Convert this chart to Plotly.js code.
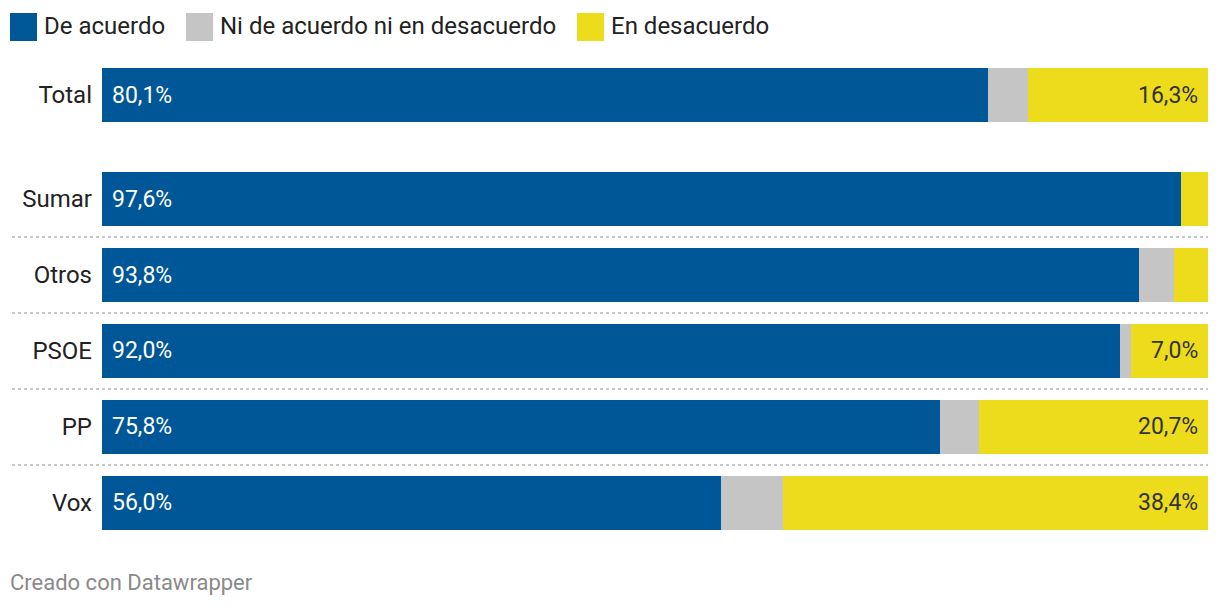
<!DOCTYPE html>
<html><head><meta charset="utf-8">
<script src="https://cdn.plot.ly/plotly-3.0.1.min.js"></script>
<style>body{margin:0;background:#fff}#chart{width:1220px;height:608px}</style>
</head><body><div id="chart"></div>
<script>
const categories = ["Total","Sumar","Otros","PSOE","PP","Vox"];
const deAcuerdo = [80.1, 97.6, 93.8, 92.0, 75.8, 56.0];
const niNi = [3.6, 0.0, 3.1, 1.0, 3.5, 5.6];
const enDesacuerdo = [16.3, 2.4, 3.1, 7.0, 20.7, 38.4];
const showYellowLabel = [true, false, false, true, true, true];
const seriesNames = ["De acuerdo","Ni de acuerdo ni en desacuerdo","En desacuerdo"];
const colors = ["#005797","#c5c5c5","#ecdc1b"];

// layout positions (row slots)
const yPos = [-1.368, 0, 1, 2, 3, 4];
const fmt = v => v.toFixed(1).replace('.', ',') + '%';
const FONT = 'Roboto, "Open Sans", sans-serif';
const W = 0.71;

const traces = [
  {type:'bar', orientation:'h', name:seriesNames[0], y:yPos, x:deAcuerdo, width:W,
   marker:{color:colors[0]}, hoverinfo:'skip', textposition:'none'},
  {type:'bar', orientation:'h', name:seriesNames[1], y:yPos, x:niNi, width:W,
   marker:{color:colors[1]}, hoverinfo:'skip', textposition:'none'},
  {type:'bar', orientation:'h', name:seriesNames[2], y:yPos, x:enDesacuerdo, width:W,
   marker:{color:colors[2]}, hoverinfo:'skip', textposition:'none'}
];

const px2x = p => (p-102)/1106;
const py2y = p => (540-p)/480;

const shapes = [];
[0.5,1.5,2.5,3.5].forEach(v=>{
  shapes.push({type:'line', xref:'paper', yref:'y', x0:px2x(12), x1:1, y0:v, y1:v,
    line:{color:'#c8c8c8', width:2, dash:'dot'}});
});
const annotations = [];
// value labels
yPos.forEach((y,i)=>{
  annotations.push({xref:'x', yref:'y', x:0, y:y, text:fmt(deAcuerdo[i]), showarrow:false,
    xanchor:'left', yanchor:'middle', xshift:8, font:{family:FONT,size:23,color:'#ffffff'}});
  if (showYellowLabel[i]) {
    const end = deAcuerdo[i]+niNi[i]+enDesacuerdo[i];
    annotations.push({xref:'x', yref:'y', x:end, y:y, text:fmt(enDesacuerdo[i]), showarrow:false,
      xanchor:'right', yanchor:'middle', xshift:-8, font:{family:FONT,size:23,color:'#333333'}});
  }
});
const legendX = [10, 186, 577];
seriesNames.forEach((n,i)=>{
  shapes.push({type:'rect', xref:'paper', yref:'paper', x0:px2x(legendX[i]), x1:px2x(legendX[i]+27),
    y0:py2y(41), y1:py2y(13), fillcolor:colors[i], line:{width:0}});
  annotations.push({xref:'paper', yref:'paper', x:px2x(legendX[i]+32), y:py2y(26), text:n,
    showarrow:false, xanchor:'left', yanchor:'middle', font:{family:FONT,size:24,color:'#222'}});
});
annotations.push({xref:'paper', yref:'paper', x:px2x(8), y:py2y(582), text:'Creado con Datawrapper',
  showarrow:false, xanchor:'left', yanchor:'middle', font:{family:FONT,size:22,color:'#8a8a8a'}});

const layout = {
  width:1220, height:608, barmode:'stack', bargap:0, showlegend:false,
  margin:{l:102, r:12, t:60, b:68},
  paper_bgcolor:'#fff', plot_bgcolor:'#fff',
  font:{family:FONT},
  xaxis:{range:[0,100], visible:false, fixedrange:true},
  yaxis:{range:[4.487,-1.829], tickvals:yPos, ticktext:categories, showgrid:false, zeroline:false,
    showline:false, ticks:'', ticklabelstandoff:9, tickfont:{family:FONT,size:24,color:'#222'}},
  shapes, annotations
};
Plotly.newPlot('chart', traces, layout, {displayModeBar:false, staticPlot:true});
</script></body></html>
